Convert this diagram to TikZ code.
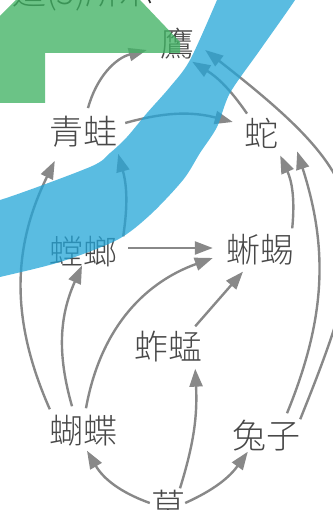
\documentclass[tikz,border=0pt]{standalone}
\usepackage{fontspec}
\usepackage{xcolor}
\usepackage{tikz}
\usetikzlibrary{positioning,calc,arrows.meta}
\newfontfamily\cjk{Noto Sans CJK TC}[UprightFont=* Light]
\definecolor{txtgray}{RGB}{72,72,72}
\definecolor{arrgray}{RGB}{136,136,136}
\definecolor{bandblue}{RGB}{35,165,215}
\definecolor{bandgreen}{RGB}{65,178,100}

\begin{document}
\begin{tikzpicture}[
						x=1pt, y=1pt,
						animal/.style={font=\cjk\fontsize{34}{40}\selectfont, text=txtgray, inner sep=4pt},
						eats/.style={draw=arrgray, line width=2.4pt, -{Triangle[length=18pt,width=13pt]}},
						band/.style={fill=bandblue, opacity=0.75},
						bigarrow/.style={fill=bandgreen, opacity=0.78}
						]
						\useasboundingbox (0,0) rectangle (332,510);
						% dòng chữ phía trên (bị cắt)
						\node[font=\cjk\fontsize{34}{40}\selectfont, text=black!85, anchor=base west, inner sep=0pt] (tieude) at (12,505) {這(3)所示};
						
						% các loài trong lưới thức ăn
						\foreach \nm/\px/\py/\txt in {ying/177/466/鷹, qw/83/378/青蛙, she/261/377/蛇, tl/83/258/螳螂, xy/260/260/蜥蜴, zm/168/163/蚱蜢, hd/83/79/蝴蝶, tz/266/74/兔子, cao/168/4/草} {
							\node[animal] (\nm) at (\px,\py) {\txt};
						}
						
						% ai ăn ai
						\draw[eats] ([xshift=5pt,yshift=4pt]qw.north) to[bend left=30] ([xshift=-9pt,yshift=-6pt]ying.west);
						\draw[eats] ([xshift=-14pt]she.north) to[bend right=12] ([xshift=-6pt,yshift=2pt]ying.south east);
						\draw[eats] ([xshift=-4pt,yshift=-3pt]tz.north east) to[out=68,in=-38,looseness=1.45] ([xshift=7pt,yshift=-6pt]ying.east);
						\draw[eats] ([xshift=4pt,yshift=9pt]qw.east) to[bend left=15] ([xshift=-7pt,yshift=11pt]she.west);
						\draw[eats] ([xshift=2pt,yshift=-4pt]tl.north east) to[bend right=12] ([xshift=-3pt,yshift=-2pt]qw.south east);
						\draw[eats] ([xshift=7pt,yshift=4pt]tl.east) -- ([xshift=-9pt,yshift=2pt]xy.west);
						\draw[eats] ([xshift=-6pt,yshift=2pt]xy.north east) to[bend right=15] ([xshift=-2pt,yshift=-3pt]she.south east);
						\draw[eats] ([xshift=21pt,yshift=3pt]tz.north) to[bend right=20] ([xshift=15pt,yshift=1pt]she.south east);
						\draw[eats] ([xshift=5pt,yshift=2pt]hd.north west) to[bend left=25] ([xshift=10pt,yshift=-9pt]qw.south west);
						\draw[eats] ([xshift=-11pt,yshift=5pt]hd.north) to[bend left=20] ([xshift=-1pt,yshift=6pt]tl.south);
						\draw[eats] ([xshift=3pt,yshift=3pt]hd.north) to[bend left=30] ([xshift=-9pt,yshift=-8pt]xy.west);
						\draw[eats] ([xshift=-11pt,yshift=1pt]zm.north east) -- ([xshift=-17pt,yshift=-2pt]xy.south);
						\draw[eats] ([xshift=3pt,yshift=3pt]cao.west) to[bend left=20] ([xshift=4pt]hd.south);
						\draw[eats] ([xshift=12pt,yshift=-2pt]cao.north) to[bend right=10] ([xshift=-11pt,yshift=-2pt]zm.south east);
						\draw[eats] ([xshift=-4pt,yshift=3pt]cao.east) to[bend right=15] ([xshift=20pt,yshift=4pt]tz.south west);
						
						% lớp tô màu phủ lên trên
						\fill[bigarrow] (-5,489) -- (26,520) -- (130,520) -- (140,510) -- (180,468) -- (180,457) -- (45,457) -- (45,407) -- (-5,407) -- cycle;
						\fill[band] plot[smooth] coordinates {(-10,314) (0,310) (90,343) (110,357) (127,373) (147,397) (170,423) (190,450) (217,510) (222,525)}
							-- plot[smooth] coordinates {(302,525) (295,510) (260,460) (230,417) (217,383) (200,357) (183,330) (150,295) (117,270) (60,248) (0,233) (-10,231)} -- cycle;
					\end{tikzpicture}
\end{document}
